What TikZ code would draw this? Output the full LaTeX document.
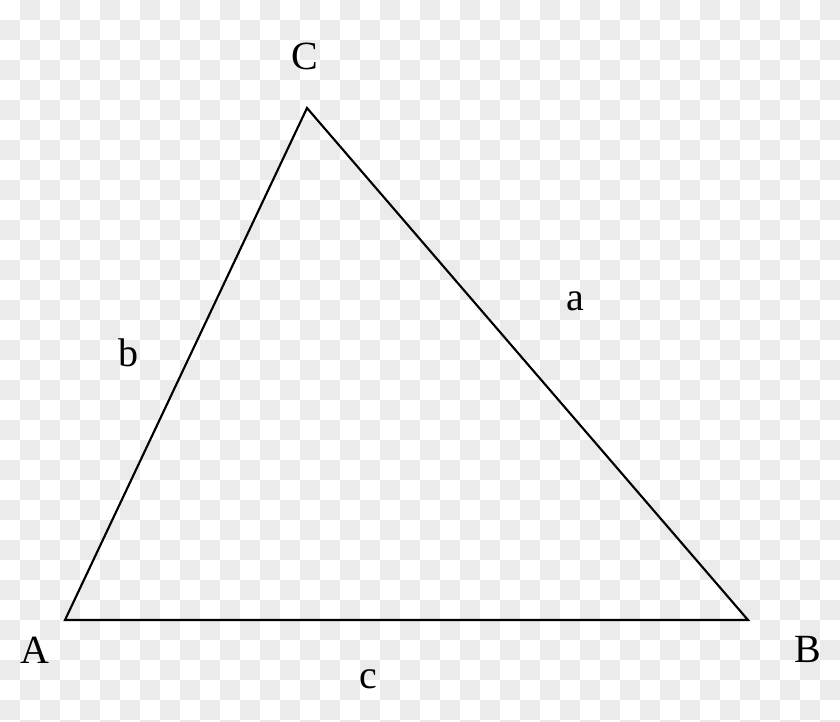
\documentclass[tikz,border=0pt]{standalone}
\usepackage{fontspec}
\setmainfont{Liberation Serif}
\definecolor{chk}{HTML}{EBEBEB}
\tikzset{lbl/.style={font=\fontsize{30}{36}\selectfont, inner sep=0pt, text=black},
  side/.style={line width=1.6pt, line join=miter}}
\begin{document}
\begin{tikzpicture}[x=0.75pt,y=-0.75pt]
\useasboundingbox (0,0) rectangle (840,722);
\clip (0,0) rectangle (840,722);
\fill[white] (0,0) rectangle (840,722);
\foreach \i in {0,...,41} {
  \foreach \j in {0,...,36} {
    \pgfmathtruncatemacro\s{mod(\i+\j,2)}
    \ifnum\s=1 \fill[chk] (\i*20,\j*20) rectangle ++(20,20); \fi
  }
}
\coordinate (A) at (65,620);
\coordinate (B) at (748,620);
\coordinate (C) at (307,108);
\draw[side] (A) -- (B) -- (C) -- cycle;
\node[lbl] (lA) at (35,650) {A};
\node[lbl] (lB) at (808,649) {B};
\node[lbl] (lC) at (305,56) {C};
\node[lbl] (la) at (575,301) {a};
\node[lbl] (lb) at (128,353) {b};
\node[lbl] (lc) at (368,679) {c};
\end{tikzpicture}
\end{document}
